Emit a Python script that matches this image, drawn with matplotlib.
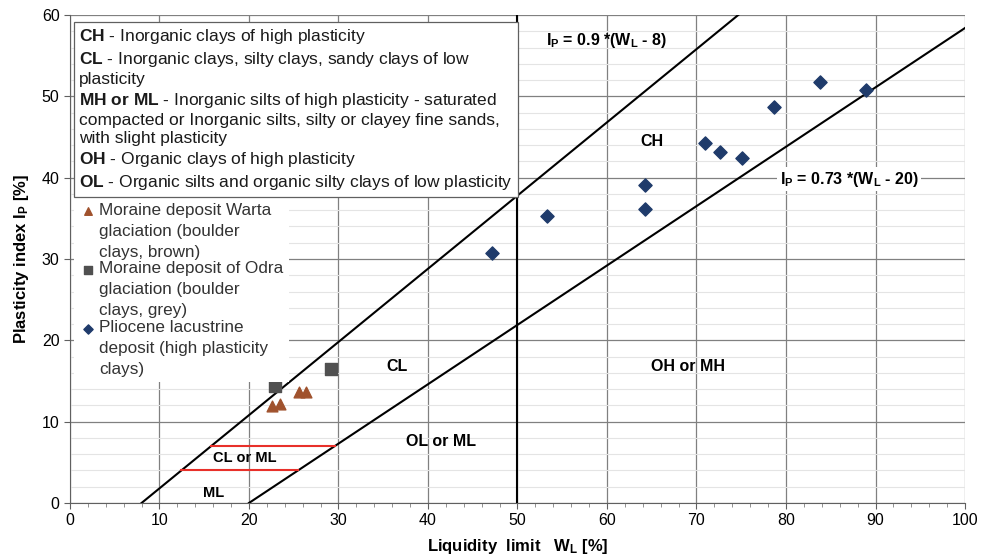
import matplotlib
matplotlib.use("Agg")
import matplotlib.pyplot as plt
import numpy as np

plt.rcParams['font.family'] = ['Liberation Sans', 'DejaVu Sans']
plt.rcParams['mathtext.fontset'] = 'custom'
plt.rcParams['mathtext.rm'] = 'Liberation Sans'
plt.rcParams['mathtext.bf'] = 'Liberation Sans:bold'
plt.rcParams['mathtext.it'] = 'Liberation Sans:italic'

# Data
warta_wl = [22.6, 23.5, 25.6, 26.4]
warta_ip = [11.9, 12.2, 13.7, 13.7]
odra_wl = [22.9, 29.2]
odra_ip = [14.4, 16.5]
plio_wl = [47.2, 53.3, 64.2, 64.2, 70.9, 72.6, 75.1, 78.7, 83.8, 88.9]
plio_ip = [30.7, 35.3, 39.1, 36.2, 44.2, 43.2, 42.4, 48.7, 51.7, 50.8]

series_labels = [
    "Moraine deposit Warta\nglaciation (boulder\nclays, brown)",
    "Moraine deposit of Odra\nglaciation (boulder\nclays, grey)",
    "Pliocene lacustrine\ndeposit (high plasticity\nclays)",
]

fig = plt.figure(figsize=(9.84, 5.59), dpi=100)
ax = fig.add_axes([0.0711, 0.1002, 0.9096, 0.873])
ax.set_xlim(0, 100)
ax.set_ylim(0, 60)
ax.set_xticks(np.arange(0, 101, 10))
ax.set_yticks(np.arange(0, 61, 10))
ax.set_xticks(np.arange(0, 101, 2), minor=True)
ax.set_yticks(np.arange(0, 61, 2), minor=True)
ax.grid(which='major', color='#808080', lw=0.9)
ax.grid(which='minor', axis='y', color='#e4e4e4', lw=0.8)
ax.tick_params(which='major', labelsize=11.5, length=4, color='#606060')
ax.tick_params(which='minor', length=3, color='#808080')
ax.tick_params(axis='y', which='minor', length=0)
for s in ['top', 'right']:
    ax.spines[s].set_visible(False)
ax.spines['left'].set_color('#606060')
ax.spines['bottom'].set_color('#606060')
ax.set_axisbelow(True)

# A-line and U-type lines
xa = np.array([8, 100])
ax.plot(xa, 0.9 * (xa - 8), color='black', lw=1.5, zorder=3)
xb = np.array([20, 100])
ax.plot(xb, 0.73 * (xb - 20), color='black', lw=1.5, zorder=3)
ax.axvline(50, color='black', lw=1.5, zorder=3)
# red lines
for yv in [4, 7]:
    x1 = yv / 0.9 + 8
    x2 = yv / 0.73 + 20
    ax.plot([x1, x2], [yv, yv], color='#e8302a', lw=1.5, zorder=3)

# series
h1 = ax.scatter(warta_wl, warta_ip, marker='^', s=60, color='#a0522d', zorder=4)
h2 = ax.scatter(odra_wl, odra_ip, marker='s', s=70, color='#505050', zorder=4)
h3 = ax.scatter(plio_wl, plio_ip, marker='D', s=45, color='#1f3b6b', zorder=4)

leg = ax.legend([h1, h2, h3], series_labels, loc='upper left',
                bbox_to_anchor=(0.005, 0.626), frameon=True, fontsize=12.3,
                handletextpad=0.15, borderaxespad=0.0, borderpad=0.3,
                labelspacing=0.1, handlelength=1.0, markerscale=0.7,
                scatteryoffsets=[2.15])
leg.get_frame().set_edgecolor('none')
leg.get_frame().set_facecolor('white')
leg.get_frame().set_alpha(1)
leg.get_frame().set_boxstyle('square', pad=0.0)
for t in leg.get_texts():
    t.set_color('#333333')
    t.set_linespacing(1.5)

# classification text box
box_lines = [
    r"$\bf{CH}$ - Inorganic clays of high plasticity",
    r"$\bf{CL}$ - Inorganic clays, silty clays, sandy clays of low",
    "plasticity",
    r"$\bf{MH\ or\ ML}$ - Inorganic silts of high plasticity - saturated",
    "compacted or Inorganic silts, silty or clayey fine sands,",
    "with slight plasticity",
    r"$\bf{OH}$ - Organic clays of high plasticity",
    r"$\bf{OL}$ - Organic silts and organic silty clays of low plasticity",
]
ax.text(0.01, 0.975, "\n".join(box_lines), transform=ax.transAxes,
        ha='left', va='top', fontsize=12.5, linespacing=1.27, zorder=6,
        color='#1a1a1a',
        bbox=dict(boxstyle='square,pad=0.3', facecolor='white',
                  edgecolor='#606060', lw=0.9))

# region labels
kw = dict(fontsize=11.5, fontweight='bold', ha='center', va='center', zorder=5)
ax.text(65, 44.5, "CH", **kw)
ax.text(36.5, 16.8, "CL", **kw)
ax.text(69, 16.8, "OH or MH", **kw)
ax.text(41.5, 7.5, "OL or ML", **kw)
ax.text(19.5, 5.5, "CL or ML", fontsize=10.5, fontweight='bold', ha='center', va='center', zorder=5)
ax.text(16, 1.2, "ML", fontsize=10.5, fontweight='bold', ha='center', va='center', zorder=5)
ax.text(53.2, 56.9, r"I$_\mathbf{P}$ = 0.9 *(W$_\mathbf{L}$ - 8)", fontsize=11.5,
        fontweight='bold', ha='left', va='center', zorder=5)
ax.text(79.3, 39.8, r"I$_\mathbf{P}$ = 0.73 *(W$_\mathbf{L}$ - 20)", fontsize=11.5,
        fontweight='bold', ha='left', va='center', zorder=5,
        bbox=dict(boxstyle='square,pad=0.15', facecolor='white', edgecolor='none'))

ax.set_xlabel(r"Liquidity  limit   W$_\mathbf{L}$ [%]", fontsize=12, fontweight='bold', labelpad=6)
ax.set_ylabel(r"Plasticity index I$_\mathbf{P}$ [%]", fontsize=12, fontweight='bold', labelpad=8)

fig.savefig("out.png", dpi=100)
